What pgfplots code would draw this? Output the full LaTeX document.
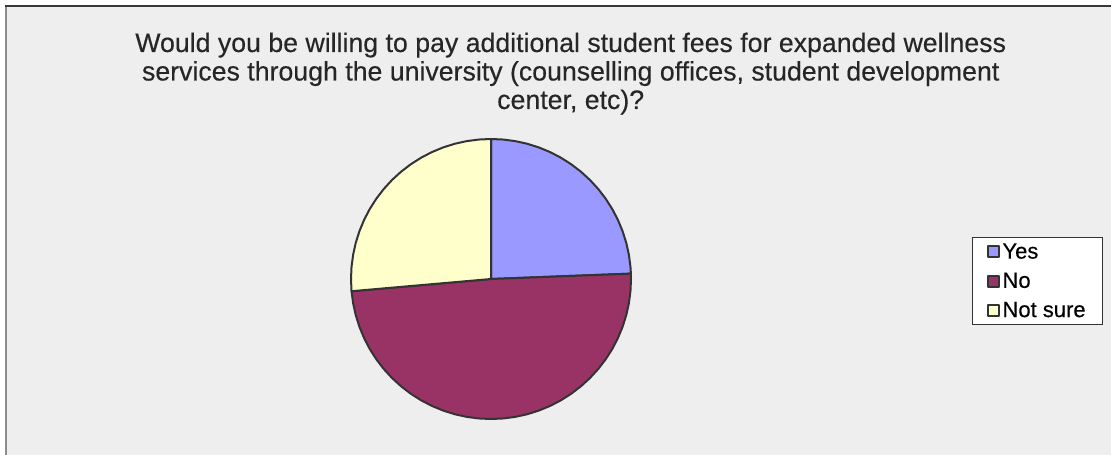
\documentclass[border=0pt]{standalone}
\usepackage{pgfplots}
\pgfplotsset{compat=1.18}
\usepgfplotslibrary{polar}
\usepackage{fontspec}
\setmainfont{Liberation Sans}
\newfontfamily\heavy[FakeBold=0.3]{Liberation Sans}

\definecolor{bg}{HTML}{EEEEEE}
\definecolor{edge}{HTML}{333333}
\definecolor{cyes}{HTML}{9999FF}
\definecolor{cno}{HTML}{993366}
\definecolor{cns}{HTML}{FFFFCC}
\definecolor{ttl}{HTML}{262626}

% shares: Yes 24.4%, No 49.2%, Not sure 26.4%  -> slice edges at 90, 2.2, -175 deg
\begin{document}
\begin{tikzpicture}[x=1pt,y=1pt]
\useasboundingbox (0,0) rectangle (1111,455);
\fill[white] (0,0) rectangle (1111,455);
\fill[bg] (5,0) rectangle (1111,450);
\draw[black!45, line width=1.6pt] (5.8,0) -- (5.8,449.2);
\draw[black!78, line width=1.6pt] (5,449.2) -- (1111,449.2);

\node[anchor=base, text=ttl, font=\heavy\fontsize{26.7}{28}\selectfont] at (570.7,403) {Would you be willing to pay additional student fees for expanded wellness};
\node[anchor=base, text=ttl, font=\heavy\fontsize{26.7}{28}\selectfont] at (570.7,374.5) {services through the university (counselling offices, student development};
\node[anchor=base, text=ttl, font=\heavy\fontsize{26.7}{28}\selectfont] at (570.7,346) {center, etc)?};

\begin{polaraxis}[
  at={(491pt,176pt)}, anchor=center,
  scale only axis, width=280pt, height=280pt,
  xmin=0, xmax=360, ymin=0, ymax=1,
  hide axis, clip=false,
  every axis plot/.append style={draw=edge, line width=2pt, line join=round},
  legend image code/.code={\draw[#1, line width=2pt] (0pt,-5.5pt) rectangle (11pt,5.5pt);},
  legend cell align=left,
  legend style={
    at={(axis description cs:2.218,0.65)}, anchor=north west,
    draw=black!80, line width=0.9pt, fill=white,
    font=\heavy\fontsize{22}{22}\selectfont,
    inner xsep=15pt, inner ysep=4pt, row sep=8.6pt,
    /tikz/every even column/.append style={column sep=9pt},
  },
]
\addplot[fill=cyes] coordinates {(0,0) (90,1) (85,1) (80,1) (75,1) (70,1) (65,1) (60,1) (55,1) (50,1) (45,1) (40,1) (35,1) (30,1) (25,1) (20,1) (15,1) (10,1) (5,1) (2.2,1)} -- cycle;
\addplot[fill=cno] coordinates {(0,0) (2.2,1) (0,1) (-5,1) (-10,1) (-15,1) (-20,1) (-25,1) (-30,1) (-35,1) (-40,1) (-45,1) (-50,1) (-55,1) (-60,1) (-65,1) (-70,1) (-75,1) (-80,1) (-85,1) (-90,1) (-95,1) (-100,1) (-105,1) (-110,1) (-115,1) (-120,1) (-125,1) (-130,1) (-135,1) (-140,1) (-145,1) (-150,1) (-155,1) (-160,1) (-165,1) (-170,1) (-175,1)} -- cycle;
\addplot[fill=cns] coordinates {(0,0) (185,1) (180,1) (175,1) (170,1) (165,1) (160,1) (155,1) (150,1) (145,1) (140,1) (135,1) (130,1) (125,1) (120,1) (115,1) (110,1) (105,1) (100,1) (95,1) (90,1)} -- cycle;
\legend{Yes,No,Not sure}
\end{polaraxis}
\end{tikzpicture}
\end{document}
